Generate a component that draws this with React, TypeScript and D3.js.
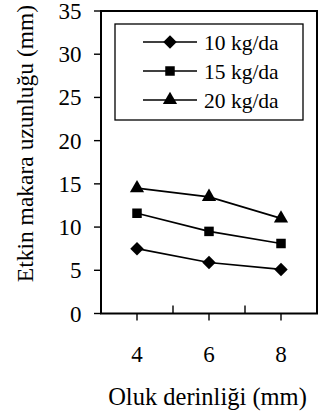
import React from "react";
import * as d3 from "d3";

const depths = ["4", "6", "8"];
const seriesNames = ["10 kg/da", "15 kg/da", "20 kg/da"];
const rate10 = [7.5, 5.9, 5.1];
const rate15 = [11.6, 9.5, 8.1];
const rate20 = [14.5, 13.5, 11.0];
const yTicks = [0, 5, 10, 15, 20, 25, 30, 35];
const markers = ["diamond", "square", "triangle"];

const W = 328;
const H = 419;
const margin = { top: 11, right: 11, bottom: 105.5, left: 101 };
const serif = '"Liberation Serif", "Times New Roman", serif';

function markerPath(kind: string, size: number) {
  const sym =
    kind === "diamond" ? d3.symbolDiamond2 : kind === "square" ? d3.symbolSquare2 : d3.symbolTriangle2;
  return d3.symbol().type(sym).size(size)() || "";
}

const App: React.FC = () => {
  const series = [rate10, rate15, rate20];
  const x = d3.scaleBand<string>().domain(depths).range([margin.left, W - margin.right]).padding(0);
  const y = d3.scaleLinear().domain([0, 35]).range([H - margin.bottom, margin.top]);
  const cx = (d: string) => (x(d) ?? 0) + x.bandwidth() / 2;
  const sizes: Record<string, number> = { diamond: 115, square: 115, triangle: 145 };

  const line = d3
    .line<number>()
    .x((_, i) => cx(depths[i]))
    .y((v) => y(v));

  const boundaries = depths.slice(1).map((d) => x(d) ?? 0);
  const x0 = margin.left;
  const x1 = W - margin.right;
  const yb = y(0);

  // legend box
  const lg = { x: 115, y: 24, w: 188, h: 96 };
  const rowY = (i: number) => 42 + i * 29;

  return (
    <svg width={W} height={H} style={{ position: "absolute", left: 0, top: 0, background: "#fff" }}>
      {/* series */}
      {series.map((vals, si) => (
        <g key={si}>
          <path d={line(vals) || ""} fill="none" stroke="#000" strokeWidth={1.7} />
          {vals.map((v, i) => (
            <path
              key={i}
              d={markerPath(markers[si], sizes[markers[si]])}
              transform={`translate(${cx(depths[i])},${y(v)})`}
              fill="#000"
            />
          ))}
        </g>
      ))}

      {/* frame */}
      <rect
        x={x0}
        y={y(35)}
        width={x1 - x0}
        height={yb - y(35)}
        fill="none"
        stroke="#000"
        strokeWidth={2}
      />

      {/* y ticks */}
      {yTicks.map((t) => (
        <g key={t}>
          <line x1={x0 - 7} x2={x0} y1={y(t)} y2={y(t)} stroke="#000" strokeWidth={1.4} />
          <text x={81.5} y={y(t) + 8} textAnchor="end" fontSize={23} fontFamily={serif}>
            {t}
          </text>
        </g>
      ))}

      {/* x ticks */}
      {depths.map((d) => (
        <g key={d}>
          <line x1={cx(d)} x2={cx(d)} y1={yb} y2={yb + 7} stroke="#000" strokeWidth={1.4} />
          <text x={cx(d)} y={362} textAnchor="middle" fontSize={23} fontFamily={serif}>
            {d}
          </text>
        </g>
      ))}
      {boundaries.map((b, i) => (
        <line key={i} x1={b} x2={b} y1={yb} y2={yb - 8} stroke="#000" strokeWidth={1.4} />
      ))}

      {/* axis titles */}
      <text x={(x0 + x1) / 2 - 1.5} y={405} textAnchor="middle" fontSize={24.5} fontFamily={serif}>
        Oluk derinliği (mm)
      </text>
      <text
        transform={`translate(33,${(5 + 282) / 2}) rotate(-90)`}
        textAnchor="middle"
        fontSize={23.5}
        fontFamily={serif}
      >
        Etkin makara uzunluğu (mm)
      </text>

      {/* legend */}
      <rect x={lg.x} y={lg.y} width={lg.w} height={lg.h} fill="#fff" stroke="#000" strokeWidth={1.3} />
      {seriesNames.map((name, i) => (
        <g key={name}>
          <line x1={143} x2={197} y1={rowY(i)} y2={rowY(i)} stroke="#000" strokeWidth={1.7} />
          <path
            d={markerPath(markers[i], sizes[markers[i]])}
            transform={`translate(170,${rowY(i)})`}
            fill="#000"
          />
          <text x={204} y={rowY(i) + 7.5} fontSize={21.5} fontFamily={serif}>
            {name}
          </text>
        </g>
      ))}
    </svg>
  );
};

export default App;
